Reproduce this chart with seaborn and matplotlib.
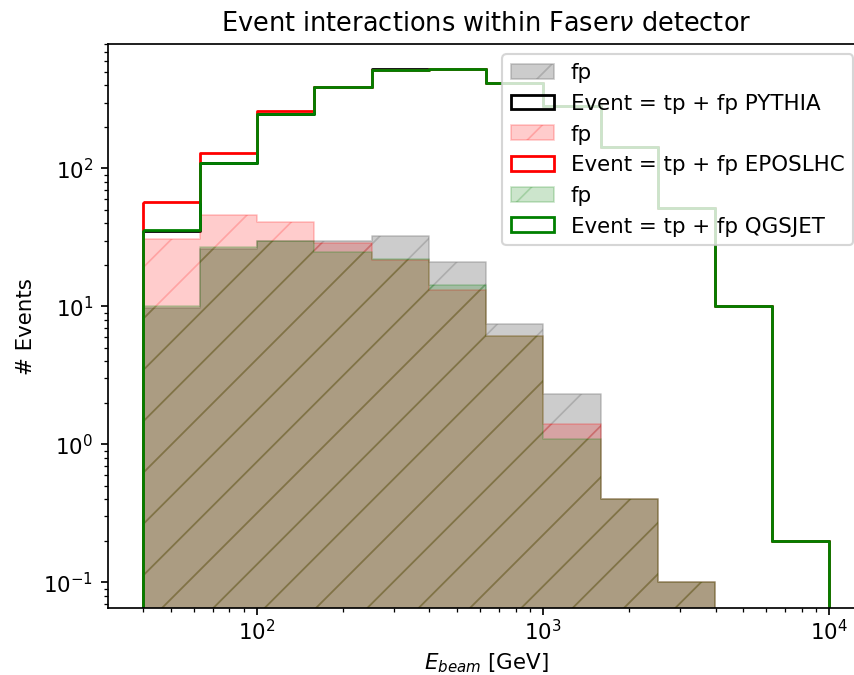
import numpy as np
import matplotlib
matplotlib.use("Agg")
import matplotlib.pyplot as plt
import seaborn as sns
from matplotlib.colors import to_rgba

# Bin edges in log10(E / GeV)
log_edges = [1.6, 1.8, 2.0, 2.2, 2.4, 2.6, 2.8, 3.0, 3.2, 3.4, 3.6, 3.8, 4.0]

# Event counts per energy bin
pythia_fp = [9.7, 26.0, 29.6, 29.9, 32.3, 20.9, 7.5, 2.3, 0.4, 0.1, 0.0, 0.0]
pythia_total = [35.5, 110.0, 248.0, 390.0, 525.0, 525.0, 415.0, 283.0, 143.0, 52.0, 10.0, 0.2]

epos_fp = [31.0, 46.0, 41.0, 28.6, 21.6, 13.1, 6.05, 1.4, 0.4, 0.1, 0.0, 0.0]
epos_total = [57.0, 130.0, 262.0, 390.0, 520.0, 525.0, 415.0, 283.0, 143.0, 52.0, 10.0, 0.2]

qgsjet_fp = [10.0, 27.0, 29.6, 24.8, 21.9, 14.2, 6.05, 1.1, 0.4, 0.1, 0.0, 0.0]
qgsjet_total = [35.7, 110.0, 248.0, 387.0, 520.0, 525.0, 415.0, 283.0, 143.0, 52.0, 10.0, 0.2]

generators = ["PYTHIA", "EPOSLHC", "QGSJET"]

DPI = 154

plt.rcParams.update({
    "font.family": ["DejaVu Sans"],
    "font.size": 10,
    "axes.titlesize": 12,
    "legend.fontsize": 10,
    "hatch.linewidth": 0.8,
    "xtick.major.pad": 1.4,
    "xtick.minor.pad": 1.4,
    "axes.labelpad": 3.5,
    "mathtext.fontset": "dejavusans",
})

fig = plt.figure(figsize=(854.5 / DPI, 675.5 / DPI), dpi=DPI)
ax = fig.add_axes([108.3 / 854, 67.1 / 675, 755.0 / 854, 563.9 / 675])

centers = [10 ** ((lo + hi) / 2) for lo, hi in zip(log_edges[:-1], log_edges[1:])]

series = [
    (pythia_fp, pythia_total, "gray", 0.4, "black"),
    (epos_fp, epos_total, "red", 0.2, "red"),
    (qgsjet_fp, qgsjet_total, "green", 0.2, "green"),
]

for name, (fp, total, fill_color, alpha, line_color) in zip(generators, series):
    # fake-prediction component: translucent, hatched
    sns.histplot(
        x=centers, weights=fp, bins=log_edges, log_scale=True,
        element="step", fill=True, stat="count", ax=ax,
        color=fill_color,
        facecolor=to_rgba(fill_color, alpha),
        edgecolor=to_rgba(fill_color, alpha),
        linewidth=0.8, hatch="/", label="fp",
    )
    # total events: outline only
    sns.histplot(
        x=centers, weights=total, bins=log_edges, log_scale=True,
        element="step", fill=True, stat="count", ax=ax,
        color=line_color,
        facecolor="none", edgecolor=line_color,
        linewidth=1.3, label=f"Event = tp + fp {name}",
    )

ax.set_yscale("log")
ax.set_xlim(10 ** 1.48, 10 ** 4.12)
ax.set_ylim(10 ** -1.186, 10 ** 2.906)

ax.set_title("Event interactions within Faser$\\nu$ detector")
ax.set_xlabel("$E_{beam}$ [GeV]")
ax.set_ylabel("# Events")
ax.legend(loc="upper right")

fig.savefig("out.png", dpi=DPI)
